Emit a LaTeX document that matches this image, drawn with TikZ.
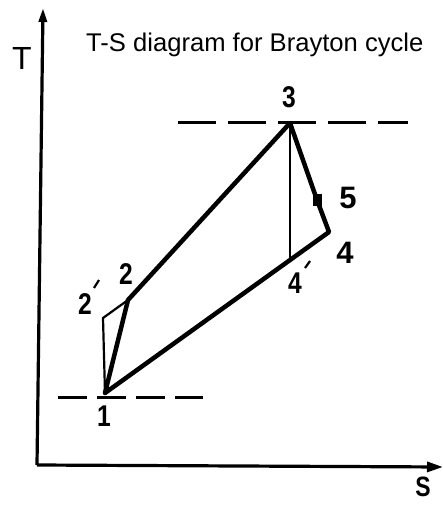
\documentclass[tikz,border=0pt]{standalone}
\usepackage{fontspec}
\setmainfont{Liberation Sans}
\usetikzlibrary{arrows.meta}
\begin{document}
\begin{tikzpicture}[x=1pt,y=-1pt,
  thickline/.style={line width=4.5pt, line cap=round, line join=round},
  thinline/.style={line width=2.2pt, line cap=round},
  axisline/.style={line width=3.2pt},
  dashline/.style={line width=3pt},
  hand/.style={font=\bfseries\fontsize{30}{32}\selectfont, inner sep=0pt, xscale=0.82},
  bigdigit/.style={font=\bfseries\fontsize{31}{33}\selectfont, inner sep=0pt}]
\useasboundingbox (0,0) rectangle (443,505);
% axes
\coordinate (O) at (37,465);
\coordinate (Ytop) at (43,8);
\coordinate (Xend) at (443,467);
\draw[axisline, -{Triangle[length=16pt,width=10pt]}] (O) -- (Xend);
\draw[axisline, -{Triangle[length=14pt,width=8pt]}] (O) -- (Ytop);
\node[font=\fontsize{32}{34}\selectfont, inner sep=0pt] (T) at (22,58) {T};
\node[hand, font=\bfseries\fontsize{28}{30}\selectfont] (S) at (423,487) {S};
% title
\node[font=\fontsize{25.6}{30}\selectfont, inner sep=0pt, anchor=west] (title) at (86,45) {T-S diagram for Brayton cycle};
% state points
\coordinate (p1) at (105,393);
\coordinate (p2) at (128,300);
\coordinate (p2p) at (103,318);
\coordinate (p3) at (290,123);
\coordinate (p4) at (329,232);
\coordinate (p4p) at (290,260);
\coordinate (p5) at (317,200);
% dashed isobars
\coordinate (da) at (178,123);
\coordinate (db) at (408,123);
\coordinate (dc) at (58,397);
\coordinate (dd) at (203,397);
\draw[dashline, dash pattern=on 38pt off 12pt] (da) -- (db);
\draw[dashline, dash pattern=on 29pt off 10pt] (dc) -- (dd);
% cycle
\draw[thinline] (p1) -- (p2p) -- (p2);
\draw[thinline] (p3) -- (p4p);
\draw[thickline] (p1) -- (p2) -- (p3) -- (p5) -- (p4) -- (p1);
\fill (p5) ++(-4.5,-6) rectangle ++(9,12);
% labels
\node[hand] (l1) at (104,416) {1};
\node[hand] (l2) at (126,274) {2};
\node[hand] (l2p) at (85,304) {2};
\draw[line width=2.2pt] (94,288) -- (99,280);
\node[hand] (l3) at (289,97) {3};
\node[bigdigit] (l5) at (348,198) {5};
\node[bigdigit] (l4) at (345,253) {4};
\node[hand] (l4p) at (295,283) {4};
\draw[line width=2.2pt] (305,268) -- (310,261);
\end{tikzpicture}
\end{document}
